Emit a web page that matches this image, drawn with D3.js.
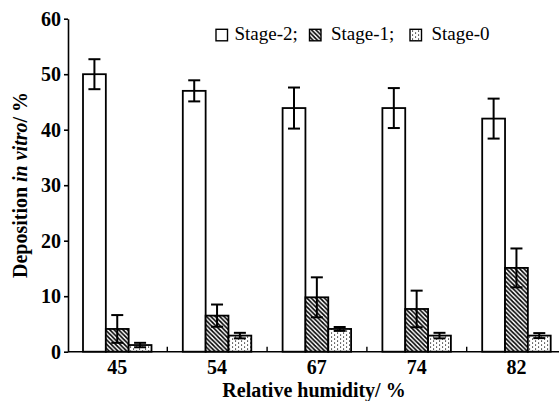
<!DOCTYPE html>
<html>
<head>
<meta charset="utf-8">
<script src="https://cdn.jsdelivr.net/npm/d3@7"></script>
<style>
html,body{margin:0;padding:0;background:#fff;}
svg{display:block;}
text{font-family:"Liberation Serif","Times New Roman",serif;fill:#000;}
</style>
</head>
<body>
<svg id="chart" width="559" height="401"></svg>
<script>
const categories = ["45", "54", "67", "74", "82"];
const seriesNames = ["Stage-2", "Stage-1", "Stage-0"];
const stage2 = [50, 47, 43.9, 43.9, 42];
const stage2Err = [2.7, 1.9, 3.7, 3.6, 3.6];
const stage1 = [4.1, 6.5, 9.8, 7.7, 15.1];
const stage1Err = [2.5, 2.0, 3.6, 3.3, 3.5];
const stage0 = [1.2, 2.9, 4.1, 2.9, 2.9];
const stage0Err = [0.4, 0.5, 0.35, 0.5, 0.45];
const yTicks = [0, 10, 20, 30, 40, 50, 60];
const legendLabels = ["Stage-2;", "Stage-1;", "Stage-0"];

const values = [stage2, stage1, stage0];
const errors = [stage2Err, stage1Err, stage0Err];
const fills = ["#fff", "url(#hatch)", "url(#dots)"];

const svg = d3.select("#chart");
const defs = svg.append("defs");

const hatch = defs.append("pattern").attr("id", "hatch")
  .attr("patternUnits", "userSpaceOnUse").attr("width", 4.4).attr("height", 4.4);
hatch.append("rect").attr("width", 4.4).attr("height", 4.4).attr("fill", "#fff");
hatch.append("path").attr("d", "M0,0 L4.4,4.4 M-1.1,3.3 L1.1,5.5 M3.3,-1.1 L5.5,1.1")
  .attr("stroke", "#000").attr("stroke-width", 1.6);

const dots = defs.append("pattern").attr("id", "dots")
  .attr("patternUnits", "userSpaceOnUse").attr("width", 6).attr("height", 4);
dots.append("rect").attr("width", 6).attr("height", 4).attr("fill", "#fff");
dots.append("rect").attr("x", 1).attr("y", 0.5).attr("width", 1.1).attr("height", 1.1).attr("fill", "#000");
dots.append("rect").attr("x", 4).attr("y", 2.5).attr("width", 1.1).attr("height", 1.1).attr("fill", "#000");

const x0 = d3.scaleBand().domain(categories).range([67.5, 566.5]).padding(0);
const x1 = d3.scaleBand().domain(seriesNames).range([15.5, 84]).padding(0);
const y = d3.scaleLinear().domain([0, 60]).range([351.7, 18.7]);

// bars
seriesNames.forEach((s, si) => {
  const g = svg.append("g");
  g.selectAll("rect").data(categories).join("rect")
    .attr("x", c => x0(c) + x1(s))
    .attr("y", (c, i) => y(values[si][i]))
    .attr("width", x1.bandwidth())
    .attr("height", (c, i) => y(0) - y(values[si][i]))
    .attr("fill", fills[si])
    .attr("stroke", "#000").attr("stroke-width", 1.8);
});

// error bars
seriesNames.forEach((s, si) => {
  const g = svg.append("g").attr("stroke", "#000").attr("stroke-width", 2).attr("fill", "none");
  categories.forEach((c, i) => {
    const cx = x0(c) + x1(s) + x1.bandwidth() / 2;
    const v = values[si][i], e = errors[si][i];
    const hi = y(v + e), lo = y(v - e);
    g.append("line").attr("x1", cx).attr("x2", cx).attr("y1", hi).attr("y2", lo);
    g.append("line").attr("x1", cx - 6).attr("x2", cx + 6).attr("y1", hi).attr("y2", hi);
    g.append("line").attr("x1", cx - 6).attr("x2", cx + 6).attr("y1", lo).attr("y2", lo);
  });
});

// y axis
const yAxis = svg.append("g").attr("transform", "translate(68,0)")
  .call(d3.axisLeft(y).tickValues(yTicks).tickSize(4).tickSizeOuter(0).tickPadding(3));
yAxis.select(".domain").attr("stroke-width", 1.6);
yAxis.selectAll(".tick line").attr("stroke-width", 1.6);
yAxis.selectAll("text").attr("font-size", 20).attr("font-weight", "bold")
  .attr("font-family", "Liberation Serif, serif").attr("fill", "#000");

// x axis
const xAxis = svg.append("g");
xAxis.append("line").attr("x1", 68).attr("x2", 559).attr("y1", y(0)).attr("y2", y(0))
  .attr("stroke", "#000").attr("stroke-width", 1.6);
xAxis.selectAll(".xt").data(categories.slice(1)).join("line").attr("class", "xt")
  .attr("x1", c => x0(c)).attr("x2", c => x0(c))
  .attr("y1", y(0)).attr("y2", y(0) - 5)
  .attr("stroke", "#000").attr("stroke-width", 1.4);
xAxis.selectAll(".xl").data(categories).join("text").attr("class", "xl")
  .attr("x", c => x0(c) + x1(seriesNames[1]) + x1.bandwidth() / 2)
  .attr("y", 373.5)
  .attr("text-anchor", "middle").attr("font-size", 20).attr("font-weight", "bold")
  .text(c => c);

// axis titles
svg.append("text").attr("x", 314).attr("y", 396.5).attr("text-anchor", "middle")
  .attr("font-size", 20).attr("font-weight", "bold").text("Relative humidity/ %");

const yt = svg.append("text").attr("transform", "translate(27,185) rotate(-90)")
  .attr("text-anchor", "middle").attr("font-size", 20).attr("font-weight", "bold");
yt.append("tspan").text("Deposition ");
yt.append("tspan").attr("font-style", "italic").text("in vitro");
yt.append("tspan").text("/ %");

// legend
const legendX = [216, 309.5, 410];
const lg = svg.append("g");
seriesNames.forEach((s, si) => {
  lg.append("rect").attr("x", legendX[si]).attr("y", 29.3).attr("width", 11.5).attr("height", 11.5)
    .attr("fill", fills[si]).attr("stroke", "#000").attr("stroke-width", 1.4);
  lg.append("text").attr("x", legendX[si] + (si === 0 ? 18.5 : 21.5)).attr("y", 39.5)
    .attr("font-size", 19).text(legendLabels[si]);
});
</script>
</body>
</html>
